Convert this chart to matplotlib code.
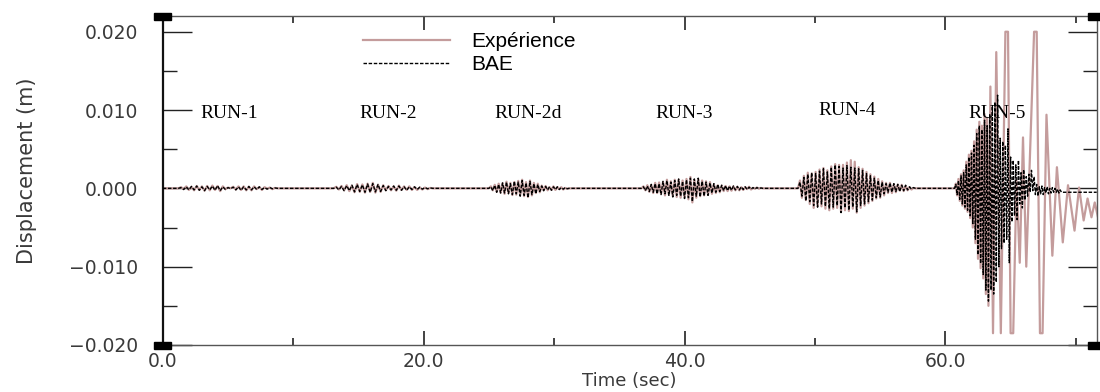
import matplotlib.pyplot as plt
import numpy as np
from matplotlib.patches import Rectangle
from matplotlib.ticker import MultipleLocator, FuncFormatter

# displacement values in mm (peaks of each oscillation)
run_names = ['RUN-1', 'RUN-2', 'RUN-2d', 'RUN-3', 'RUN-4', 'RUN-5']
run_label_x = [5.1, 17.3, 28.0, 40.0, 52.5, 64.0]
run_label_y = [9.6, 9.6, 9.6, 9.6, 10.0, 9.6]

# sampling of the peak lists: start time and step (sec)
run_t0 = [1.2, 13.1, 25.0, 36.7, 48.7, 60.7]
run_dt = [0.2, 0.2, 0.15, 0.15, 0.15, 0.1]

bae_run1 = [0, 0.1, -0.15, 0.2, -0.2, 0.25, -0.2, 0.3, -0.25, 0.2,
            -0.3, 0.25, -0.2, 0.3, -0.25, 0.35, -0.3, 0.2, -0.15, 0.1,
            -0.05, 0.15, -0.2, 0.2, -0.25, 0.2, -0.2, 0.25, -0.2, 0.2,
            -0.15, 0.2, -0.15, 0.1, -0.1, 0.1, -0.05, 0.05, 0]
exp_run1 = [0, 0.15, -0.1, 0.25, -0.2, 0.2, -0.25, 0.3, -0.2, 0.25,
            -0.3, 0.3, -0.25, 0.35, -0.2, 0.3, -0.35, 0.25, -0.1, 0.1,
            0, 0.2, -0.15, 0.25, -0.2, 0.25, -0.25, 0.2, -0.25, 0.25,
            -0.1, 0.15, -0.2, 0.15, -0.05, 0.1, -0.1, 0.05, 0]

bae_run2 = [0, 0.15, -0.2, 0.25, -0.3, 0.35, -0.3, 0.4, -0.45, 0.5,
            -0.4, 0.45, -0.5, 0.55, -0.5, 0.6, -0.45, 0.5, -0.4, 0.35,
            -0.3, 0.25, -0.2, 0.3, -0.25, 0.3, -0.25, 0.2, -0.25, 0.2,
            -0.15, 0.2, -0.15, 0.15, -0.1, 0.1, -0.05, 0.05, 0]
exp_run2 = [0, 0.2, -0.15, 0.3, -0.25, 0.4, -0.35, 0.35, -0.5, 0.55,
            -0.45, 0.5, -0.55, 0.6, -0.45, 0.7, -0.55, 0.45, -0.45, 0.4,
            -0.25, 0.3, -0.25, 0.25, -0.3, 0.35, -0.2, 0.25, -0.2, 0.25,
            -0.2, 0.15, -0.2, 0.1, -0.15, 0.1, -0.1, 0.05, 0]

bae_run2d = [0, 0.2, -0.3, 0.4, -0.5, 0.5, -0.6, 0.7, -0.6, 0.8,
             -0.7, 0.6, -0.8, 0.9, -0.7, 0.8, -1.0, 1.0, -0.9, 0.7,
             -1.2, 0.9, -0.8, 0.6, -0.7, 0.5, -0.4, 0.3, -0.3, 0.25,
             -0.2, 0.2, -0.25, 0.2, -0.15, 0.2, -0.15, 0.1, -0.1, 0.1,
             -0.05, 0]
exp_run2d = [0, 0.25, -0.25, 0.45, -0.45, 0.6, -0.55, 0.65, -0.7, 0.85,
             -0.6, 0.7, -0.85, 0.8, -0.8, 0.95, -0.9, 1.1, -1.0, 0.8,
             -1.1, 1.0, -0.9, 0.7, -0.6, 0.6, -0.5, 0.35, -0.25, 0.3,
             -0.25, 0.15, -0.2, 0.25, -0.2, 0.15, -0.1, 0.15, -0.15, 0.05,
             -0.05, 0]

bae_run3 = [0, 0.2, -0.3, 0.3, -0.4, 0.5, -0.5, 0.6, -0.7, 0.6,
            -0.8, 0.9, -0.7, 1.0, -0.9, 0.8, -1.1, 1.0, -0.9, 1.2,
            -1.0, 0.9, -1.3, 1.1, -1.2, 1.3, -1.7, 1.2, -1.0, 1.3,
            -1.1, 0.9, -1.0, 0.8, -0.9, 0.7, -0.6, 0.6, -0.5, 0.5,
            -0.4, 0.4, -0.3, 0.35, -0.3, 0.3, -0.25, 0.3, -0.2, 0.25,
            -0.2, 0.2, -0.15, 0.2, -0.15, 0.15, -0.1, 0.1, -0.1, 0.1,
            -0.05, 0.05, 0]
exp_run3 = [0, 0.25, -0.25, 0.4, -0.45, 0.45, -0.6, 0.7, -0.6, 0.75,
            -0.7, 0.8, -0.9, 1.1, -0.8, 0.9, -1.0, 1.1, -1.1, 1.1,
            -1.2, 1.0, -1.2, 1.2, -1.4, 1.45, -1.8, 1.1, -1.2, 1.2,
            -1.0, 1.0, -0.9, 0.9, -0.8, 0.8, -0.7, 0.5, -0.6, 0.4,
            -0.5, 0.35, -0.35, 0.3, -0.35, 0.25, -0.3, 0.25, -0.25, 0.2,
            -0.25, 0.15, -0.2, 0.15, -0.1, 0.2, -0.15, 0.05, -0.05, 0.1,
            -0.05, 0.05, 0]

bae_run4 = [0, 0.8, -1.0, 1.4, -1.6, 1.8, -1.7, 2.0, -2.2, 1.9,
            -2.4, 2.2, -2.0, 2.5, -2.3, 2.1, -2.6, 2.7, -2.4, 3.0,
            -2.2, 2.8, -3.1, 2.6, -2.5, 2.9, -2.8, 2.7, -2.4, 2.6,
            -3.0, 2.5, -2.2, 2.3, -2.0, 1.9, -1.7, 1.6, -1.5, 1.3,
            -1.2, 1.0, -1.1, 0.8, -0.7, 0.6, -0.5, 0.7, -0.5, 0.6,
            -0.4, 0.5, -0.4, 0.4, -0.3, 0.4, -0.2, 0.2, -0.1, 0.1, 0]
exp_run4 = [0, 1.0, -1.2, 1.6, -1.5, 2.0, -2.0, 1.9, -2.5, 2.1,
            -2.3, 2.4, -2.3, 2.6, -2.6, 2.3, -2.8, 2.8, -2.6, 3.1,
            -2.5, 3.0, -3.0, 3.0, -2.8, 3.3, -2.9, 3.6, -2.6, 3.4,
            -3.1, 2.7, -2.5, 2.5, -2.2, 2.1, -1.9, 1.8, -1.6, 1.5,
            -1.3, 1.2, -1.2, 0.9, -0.9, 0.7, -0.6, 0.7, -0.6, 0.5,
            -0.5, 0.5, -0.3, 0.45, -0.35, 0.3, -0.25, 0.15, -0.15, 0.05, 0]

bae_run5 = [0, 0.5, -0.8, 1.0, -1.4, 1.6, -2.0, 2.0, -2.4, 3.0,
            -2.8, 4.0, -3.5, 4.5, -4.5, 5.5, -6.5, 7.0, -8.5, 8.0,
            -9.6, 7.5, -11.0, 8.7, -13.0, 8.0, -14.4, 9.5, -13.0, 10.5,
            -13.5, 11.0, -12.0, 11.9, -10.0, 6.4, -7.7, 6.0, -7.0, 5.5,
            -6.5, 7.6, -9.5, 4.0, -4.3, 3.6, -3.5, 3.0, -4.0, 3.6,
            -2.0, 2.0, -2.5, 2.4, -1.5, 1.5, -1.0, 1.8, -0.5, 2.3,
            -0.3, 1.5, -0.8, 0.5, -1.0, 0.2, -0.7, 0.3, -0.8, 0.1,
            -0.6, 0.2, -0.7, 0.0, -0.6, 0.1, -0.5, 0.0, -0.5, -0.1,
            -0.6, -0.2, -0.5, -0.5]
# experiment in RUN-5 has its own peak times (slower, larger swings)
exp_run5_t = [60.7, 60.8, 60.9, 61.0, 61.1, 61.2, 61.3, 61.4, 61.5, 61.6,
              61.7, 61.8, 61.9, 62.0, 62.1, 62.2, 62.3, 62.4, 62.5, 62.6,
              62.7, 62.8, 62.9, 63.0, 63.1, 63.2, 63.3, 63.45, 63.65, 63.9,
              64.25, 64.6, 64.8, 65.0, 65.2, 65.45, 65.7, 65.95, 66.2, 66.8,
              67.0, 67.25, 67.45, 67.75, 68.2, 68.55, 69.0, 69.4, 69.9, 70.25,
              70.6, 70.9, 71.2, 71.45, 71.7]
exp_run5 = [0, 0.6, -0.9, 1.2, -1.6, 1.8, -2.2, 2.3, -2.6, 3.4,
            -3.0, 4.3, -3.8, 4.8, -5.0, 6.0, -7.0, 7.5, -9.0, 8.5,
            -10.2, 8.0, -11.5, 9.5, -13.5, 9.0, -15.0, 13.0, -18.5, 17.4,
            -18.5, 20.0, 20.0, -18.5, -18.5, 1.0, -9.5, 6.5, -10.0, 20.0,
            20.0, -18.5, -18.5, 9.4, -8.6, 2.7, -6.9, 0.4, -5.4, 0.1,
            -4.1, -1.3, -3.7, -1.8, -3.7]

t_end = 71.6
bae_end = -0.5

bae_runs = [bae_run1, bae_run2, bae_run2d, bae_run3, bae_run4, bae_run5]
exp_runs = [exp_run1, exp_run2, exp_run2d, exp_run3, exp_run4]


def sampled(t0, dt, vals):
    return t0 + dt * np.arange(len(vals)), np.array(vals, dtype=float)


# experiment series
t_exp = [np.array([0.0])]
y_exp = [np.array([0.0])]
for i, vals in enumerate(exp_runs):
    t, y = sampled(run_t0[i], run_dt[i], vals)
    t_exp.append(t)
    y_exp.append(y)
t_exp.append(np.array(exp_run5_t))
y_exp.append(np.array(exp_run5, dtype=float))
t_exp = np.concatenate(t_exp)
y_exp = np.concatenate(y_exp) * 1e-3

# BAE series
t_bae = [np.array([0.0])]
y_bae = [np.array([0.0])]
for i, vals in enumerate(bae_runs):
    t, y = sampled(run_t0[i], run_dt[i], vals)
    t_bae.append(t)
    y_bae.append(y)
t_bae.append(np.array([t_end]))
y_bae.append(np.array([bae_end]))
t_bae = np.concatenate(t_bae)
y_bae = np.concatenate(y_bae) * 1e-3

fig = plt.figure(figsize=(11, 3.92), dpi=100)
ax = fig.add_axes([0.148, 0.12, 0.849, 0.839])

ax.plot(t_exp, y_exp, color='#c49c9c', lw=1.6, label='Expérience', zorder=2)
ax.plot(t_bae, y_bae, color='black', lw=1.0, ls=(0, (2.5, 1.2)), label='BAE', zorder=3)

for name, x, y in zip(run_names, run_label_x, run_label_y):
    ax.text(x, y * 1e-3, name, ha='center', va='center', fontsize=14,
            family='Liberation Serif', color='black', zorder=4)

ax.set_xlim(0, 71.6)
ax.set_ylim(-0.02, 0.022)

ax.xaxis.set_major_locator(MultipleLocator(20))
ax.xaxis.set_minor_locator(MultipleLocator(10))
ax.yaxis.set_major_locator(MultipleLocator(0.01))
ax.yaxis.set_minor_locator(MultipleLocator(0.005))
ax.xaxis.set_major_formatter(FuncFormatter(lambda v, p: f'{v:.1f}'))


def yfmt(v, p):
    s = f'{v:.3f}'
    if abs(v) < 1e-9:
        s = '0.000'
    return s.replace('-', '\u2212')


ax.yaxis.set_major_formatter(FuncFormatter(yfmt))

ax.tick_params(axis='both', which='both', direction='in', top=True, right=True,
               colors='#222222', labelcolor='#3a3a3a', labelsize=13.5)
ax.tick_params(axis='y', which='major', length=21, width=1, pad=18)
ax.tick_params(axis='y', which='minor', length=10, width=1)
ax.tick_params(axis='x', which='major', length=10, width=1.2, pad=5)
ax.tick_params(axis='x', which='minor', length=5, width=1.2)

for side in ['top', 'right', 'bottom']:
    ax.spines[side].set_color('#555555')
    ax.spines[side].set_linewidth(1.0)
ax.spines['left'].set_color('#111111')
ax.spines['left'].set_linewidth(1.6)

ax.set_xlabel('Time (sec)', fontsize=13, color='#3a3a3a', va='bottom')
ax.xaxis.set_label_coords(0.5, -0.137)
ax.set_ylabel('Displacement (m)', fontsize=15, color='#3a3a3a',
              family=['Liberation Sans Narrow', 'DejaVu Sans'], va='center')
ax.yaxis.set_label_coords(-0.145, 0.53)

# corner blocks
for cx, cy in [(0, 0), (0, 1), (1, 0), (1, 1)]:
    ax.add_patch(Rectangle((cx - 0.009, cy - 0.011), 0.018, 0.021,
                           transform=ax.transAxes, color='black',
                           clip_on=False, zorder=5))

leg = ax.legend(loc='upper left', bbox_to_anchor=(0.214, 0.952), frameon=False,
                handlelength=4.2, handletextpad=1.0,
                labelspacing=0.2, borderpad=0, borderaxespad=0,
                prop={'family': 'Liberation Sans', 'size': 15})

fig.savefig('out.png', dpi=100)
